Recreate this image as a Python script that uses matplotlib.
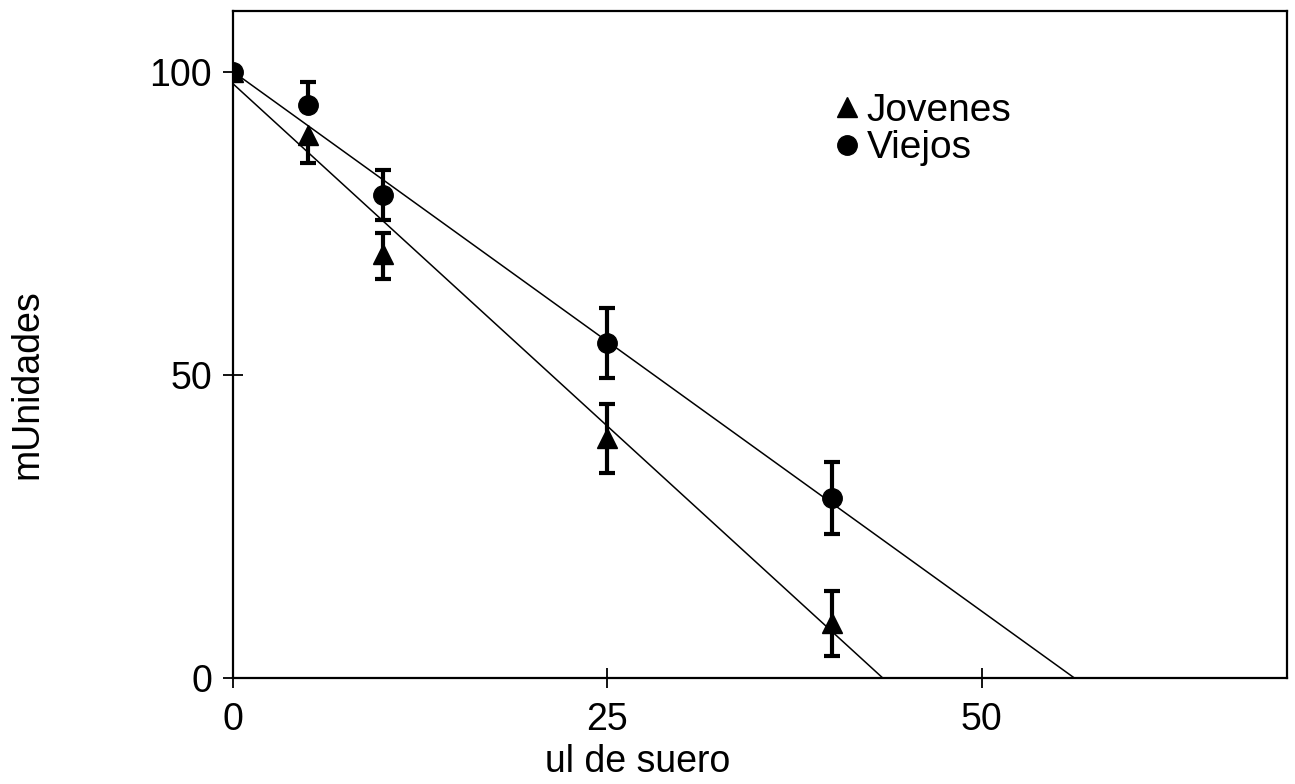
import numpy as np
import matplotlib
matplotlib.use("Agg")
import matplotlib.pyplot as plt

# ---- data ----
x_vals = [0, 5, 10, 25, 40]
jovenes = [100, 89.5, 70, 39.5, 9]
jovenes_err_hi = [0, 0, 3.4, 5.7, 5.4]
jovenes_err_lo = [0, 4.6, 4.2, 5.7, 5.4]
viejos = [100, 94.5, 79.7, 55.2, 29.7]
viejos_err_hi = [0, 3.8, 4.1, 5.8, 6.0]
viejos_err_lo = [0, 0, 4.1, 5.8, 6.0]

# fitted lines (endpoints)
jov_fit_x = [0, 43.4]
jov_fit_y = [98, 0]
vie_fit_x = [0, 56.2]
vie_fit_y = [100, 0]

x_ticks = [0, 25, 50]
y_ticks = [0, 50, 100]

plt.rcParams['font.family'] = ['Liberation Sans', 'DejaVu Sans']
FS = 27

fig = plt.figure(figsize=(12.95, 7.84), dpi=100)
ax = fig.add_axes([233/1295, 1-678/784, (1287-233)/1295, (678-11)/784])

ax.plot(jov_fit_x, jov_fit_y, color='black', lw=1.1)
ax.plot(vie_fit_x, vie_fit_y, color='black', lw=1.1)

def errbars(x, y, lo, hi):
    x = np.asarray(x, float); y = np.asarray(y, float)
    lo = np.asarray(lo, float); hi = np.asarray(hi, float)
    m = (lo > 0) | (hi > 0)
    ax.vlines(x[m], (y - lo)[m], (y + hi)[m], colors='black', lw=3, zorder=3)
    mh = hi > 0
    ml = lo > 0
    ax.plot(x[mh], (y + hi)[mh], '_', color='black', ms=12, mew=3, zorder=3)
    ax.plot(x[ml], (y - lo)[ml], '_', color='black', ms=12, mew=3, zorder=3)

errbars(x_vals, jovenes, jovenes_err_lo, jovenes_err_hi)
errbars(x_vals, viejos, viejos_err_lo, viejos_err_hi)

ax.plot(x_vals, viejos, 'o', color='black', ms=14, zorder=4, label='Viejos')
ax.plot(x_vals, jovenes, '^', color='black', ms=14, zorder=5, label='Jovenes')

ax.set_xlim(0, 70.4)
ax.set_ylim(0, 110)
ax.set_xticks(x_ticks)
ax.set_yticks(y_ticks)
ax.tick_params(direction='inout', length=14, width=1.3, labelsize=FS,
               colors='black')
ax.tick_params(axis='x', pad=10)
ax.tick_params(axis='y', pad=8)
for s in ax.spines.values():
    s.set_linewidth(1.6)

ax.set_xlabel('ul de suero', fontsize=FS)
ax.set_ylabel('mUnidades', fontsize=FS)
ax.xaxis.set_label_coords(0.384, -0.099)
ax.yaxis.set_label_coords(-0.178, 0.44)

h, l = ax.get_legend_handles_labels()
ax.legend([h[1], h[0]], [l[1], l[0]], loc='upper left',
          bbox_to_anchor=(0.573, 0.877), frameon=False, fontsize=28,
          handlelength=0.5, handletextpad=0.27, labelspacing=0.03,
          borderpad=0, borderaxespad=0, markerscale=1.0)

fig.savefig('out.png', dpi=100, facecolor='white')
